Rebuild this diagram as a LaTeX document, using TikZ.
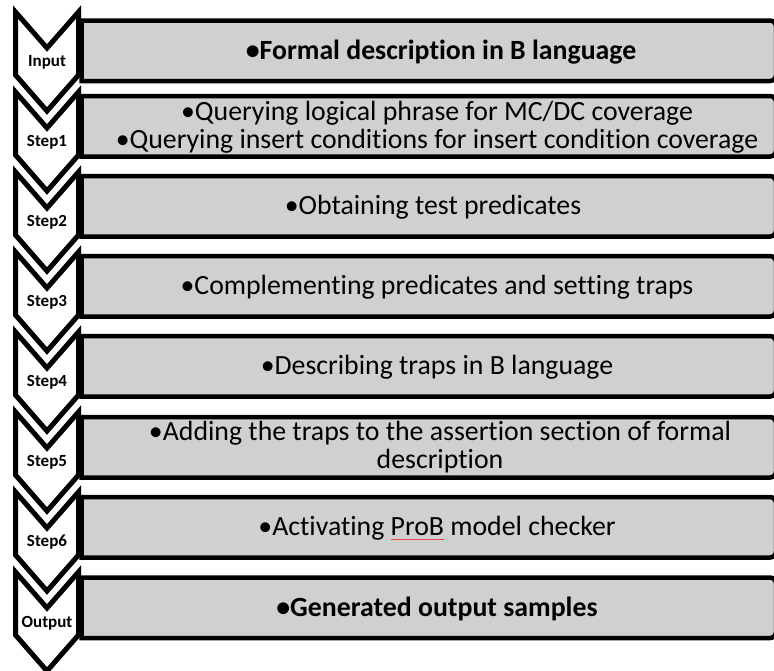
\documentclass[tikz,border=0pt]{standalone}
\usepackage{fontspec}
\setmainfont[Ligatures={NoCommon}]{Carlito}
\definecolor{boxgray}{RGB}{208,208,208}
\definecolor{spellred}{RGB}{235,70,70}
\newcommand{\spellul}[1]{{\setbox0\hbox{#1}\rlap{\textcolor{spellred}{\rule[-0.15em]{\wd0}{0.6pt}}}\box0}}
\tikzset{
  chev/.style={draw=black, line width=5pt, fill=white, miter limit=10},
  stepbox/.style={draw=black, line width=4.5pt, fill=boxgray},
  lab/.style={font=\fontsize{17}{19}\selectfont\bfseries, inner sep=0pt},
  txt/.style={font=\fontsize{27.8}{28.5}\selectfont, align=center, inner sep=0pt},
  txtb/.style={txt, font=\fontsize{27.8}{28.5}\selectfont\bfseries},
}
\begin{document}
\begin{tikzpicture}[x=1pt,y=-1pt]
\useasboundingbox (0,0) rectangle (774,670);
\clip (0,0) rectangle (774,670);
% boxes
\foreach \t/\n in {20.5/b0,96/b1,176/b2,256/b3,336/b4,417/b5,497/b6,577.5/b7}{
  \draw[stepbox] (81.5,\t+60.5) -- (81.5,\t) [rounded corners=6pt] -- (776,\t) -- (776,\t+60.5) [sharp corners] -- cycle;
}
% chevrons
\foreach \k in {0,...,7}{
  \pgfmathsetmacro{\yz}{12+80*\k}
  \draw[chev] (15.5,\yz) -- (47,\yz+36) -- (78.5,\yz) -- (78.5,\yz+63) -- (47,\yz+99) -- (15.5,\yz+63) -- cycle;
}
% labels
\node[lab] (l0) at (47,62.5) {Input};
\node[lab] (l1) at (47,142.5) {Step1};
\node[lab] (l2) at (47,222.5) {Step2};
\node[lab] (l3) at (47,302.5) {Step3};
\node[lab] (l4) at (47,382.5) {Step4};
\node[lab] (l5) at (47,462.5) {Step5};
\node[lab] (l6) at (47,542.5) {Step6};
\node[lab] (l7) at (47,623) {Output};
% texts
\node[txtb] (t0) at (441,52) {•Formal description in B language};
\node[txt] (t1) at (437,127) {•Querying logical phrase for MC/DC coverage\\•Querying insert conditions for insert condition coverage};
\node[txt] (t2) at (433,207) {•Obtaining test predicates};
\node[txt] (t3) at (437,287) {•Complementing predicates and setting traps};
\node[txt] (t4) at (437,367) {•Describing traps in B language};
\node[txt] (t5) at (440,447) {•Adding the traps to the assertion section of formal\\description};
\node[txt] (t6) at (437,528) {•Activating \spellul{ProB} model checker};
\node[txtb] (t7) at (437,609) {•Generated output samples};
\end{tikzpicture}
\end{document}
